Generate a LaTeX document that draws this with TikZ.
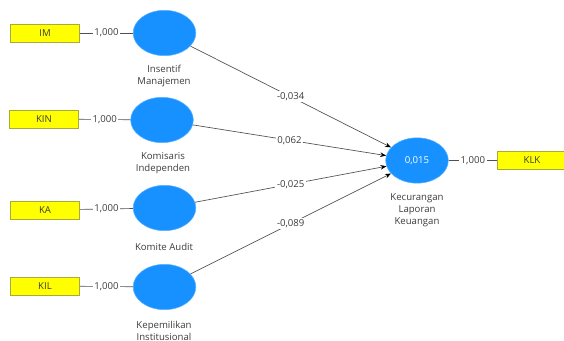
\documentclass[tikz,border=0pt]{standalone}
\usepackage{fontspec}
\setmainfont{Open Sans}
\usetikzlibrary{shapes.geometric,arrows.meta,calc}
\definecolor{lvblue}{RGB}{22,145,255}
\definecolor{mvyellow}{RGB}{255,255,0}
\definecolor{mvborder}{RGB}{170,170,60}
\definecolor{txtgrey}{RGB}{60,60,60}
\definecolor{lnggrey}{RGB}{80,80,80}
\begin{document}
\begin{tikzpicture}[x=0.75pt,y=-0.75pt,
  every node/.style={font=\fontsize{7.2}{9}\selectfont, text=txtgrey},
  latent/.style={ellipse, fill=lvblue, draw=lvblue!70!white, line width=0.4pt, minimum width=47pt, minimum height=34pt, inner sep=0pt},
  indicator/.style={rectangle, fill=mvyellow, draw=mvborder, line width=0.4pt, minimum width=52pt, minimum height=13.5pt, inner sep=0pt},
  caption/.style={align=center, inner sep=0pt},
  wlabel/.style={fill=white, inner sep=1.2pt},
  loading/.style={draw=lnggrey, line width=0.5pt},
  path/.style={draw=lnggrey, line width=0.5pt, -{Stealth[length=4.5pt,width=3.5pt,color=black]}}
]
\useasboundingbox (0,0) rectangle (564,341);

% indicators
\node[indicator] (im) at (45,33) {IM};
\node[indicator] (kin) at (44,119) {KIN};
\node[indicator] (ka) at (45,210) {KA};
\node[indicator] (kil) at (45,286) {KIL};
\node[indicator] (klk) at (532,160.5) {KLK};

% latent variables
\node[latent] (e1) at (164.5,33) {};
\node[latent] (e2) at (162,120) {};
\node[latent] (e3) at (164.5,208) {};
\node[latent] (e4) at (164.5,287) {};
\node[latent] (c) at (417,160.5) {\textcolor{white}{0,015}};

% captions
\node[caption] (t1) at (164,76) {Insentif\\Manajemen};
\node[caption] (t2) at (163,163) {Komisaris\\Independen};
\node[caption] (t3) at (164,247) {Komite Audit};
\node[caption] (t4) at (164,330.5) {Kepemilikan\\Institusional};
\node[caption] (t5) at (417,210) {Kecurangan\\Laporan\\Keuangan};

% loadings
\draw[loading] (im) -- node[wlabel] {1,000} (e1);
\draw[loading] (kin) -- node[wlabel] {1,000} (e2);
\draw[loading] (ka) -- node[wlabel] {1,000} (e3);
\draw[loading] (kil) -- node[wlabel] {1,000} (e4);
\draw[loading] (c) -- node[wlabel] {1,000} (klk);

% paths
\draw[path] (e1) -- (c);
\draw[path] (e2) -- (c);
\draw[path] (e3) -- (c);
\draw[path] (e4) -- (c);
\node[wlabel] (p1) at ($(e1.center)!0.5!(c.center)$) {-0,034};
\node[wlabel] (p2) at ($(e2.center)!0.5!(c.center)$) {0,062};
\node[wlabel] (p3) at ($(e3.center)!0.5!(c.center)$) {-0,025};
\node[wlabel] (p4) at ($(e4.center)!0.5!(c.center)$) {-0,089};
\end{tikzpicture}
\end{document}
